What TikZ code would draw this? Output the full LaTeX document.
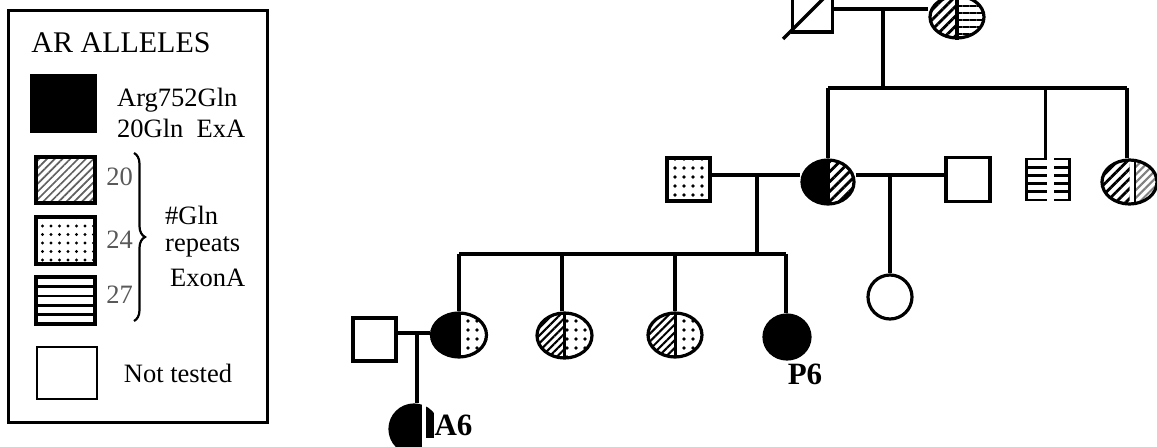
\documentclass[tikz,border=0pt]{standalone}
\usepackage{fontspec}
\setmainfont{Liberation Serif}
\usetikzlibrary{shapes.geometric,patterns.meta,decorations.pathreplacing}
\begin{document}
\tikzset{
  ped/.style={line width=3.2pt},
  fem/.style={ellipse, draw, line width=3.2pt, inner sep=0pt},
  mal/.style={rectangle, draw, line width=3.2pt, inner sep=0pt},
  lsq/.style={rectangle, draw, line width=3.4pt, inner sep=0pt},
  blk/.style={fill=black},
  hatchA/.style={pattern={Lines[angle=45,distance=7pt,line width=2.8pt]}},
  hatchB/.style={pattern={Lines[angle=45,distance=5.5pt,line width=2.1pt]}},
  greyhatch/.style={pattern={Lines[angle=45,distance=5.5pt,line width=2.1pt]}, pattern color=gray},
  lgdhatch/.style={pattern={Lines[angle=45,distance=5.5pt,line width=1.7pt]}, pattern color=gray!75!black},
  dotfill/.style={pattern={Dots[radius=1.8pt,distance=9pt]}},
  lgddots/.style={pattern={Dots[radius=1.7pt,distance=8.5pt]}},
  hlfill/.style={pattern={Lines[angle=0,distance=7pt,line width=2.6pt]}},
  halves/.style 2 args={path picture={
    \fill[#1] (path picture bounding box.south west) rectangle (path picture bounding box.north);
    \fill[#2] (path picture bounding box.south) rectangle (path picture bounding box.north east);
    \draw[line width=3pt] (path picture bounding box.south) -- (path picture bounding box.north);}},
  lgd/.style={font=\fontsize{26.5}{31}\selectfont, inner sep=0pt},
  lgdnum/.style={font=\fontsize{26.5}{31}\selectfont, inner sep=0pt, text=gray!70!black},
  idlab/.style={font=\fontsize{31}{36}\selectfont\bfseries, inner sep=0pt},
}
\begin{tikzpicture}[x=1pt,y=-1pt]
\useasboundingbox (0,0) rectangle (1157,447);
\clip (0,0) rectangle (1157,447);
\fill[white] (0,0) rectangle (1157,447);

% ---------------- legend ----------------
\draw[line width=3pt] (8,10) rectangle (267,422);
\node[lgd, font=\fontsize{30}{34}\selectfont] (title) at (121,43) {AR ALLELES};
\node[lsq, fill=black, minimum width=63pt, minimum height=55pt] (lblack) at (63.5,103.5) {};
\node[lgd, anchor=west, align=left] (ltxt) at (117,113) {Arg752Gln\\20Gln\ \ ExA};
\node[lsq, lgdhatch, minimum width=59pt, minimum height=46pt] (lhatch) at (65.5,180) {};
\node[lsq, lgddots, minimum width=59pt, minimum height=47pt] (ldots) at (65.5,240.5) {};
\node[lsq, minimum width=59pt, minimum height=47pt] (llines) at (65.5,300.5) {};
\foreach \i in {1,...,4}{
  \draw[line width=2.6pt] (36,{277+\i*9.4}) -- (95,{277+\i*9.4});
}
\node[lgdnum, anchor=east] (n20) at (133,177) {20};
\node[lgdnum, anchor=east] (n24) at (133,240) {24};
\node[lgdnum, anchor=east] (n27) at (133,295) {27};
\draw[line width=2.2pt, decorate, decoration={brace, amplitude=11pt}] (134,153) -- (134,321);
\node[lgd, anchor=west] (g1) at (165,215) {\#Gln};
\node[lgd, anchor=west] (g2) at (165,247) {repeats};
\node[lgd, anchor=west] (g3) at (170,278) {ExonA};
\node[lsq, line width=2.6pt, minimum width=60pt, minimum height=52pt] (lempty) at (67,373) {};
\node[lgd] (ntxt) at (178,373) {Not tested};

% ---------------- generation I ----------------
\node[mal, minimum size=40pt] (gm) at (812.5,12) {};
\draw[ped] (783,39) -- (840,-18);
\node[fem, minimum width=54pt, minimum height=42pt, halves={hatchA}{hlfill}] (gf) at (957,17) {};
\draw[line width=4.5pt] (gf.north) -- (gf.south);
\draw[ped] ([yshift=3pt]gm.east) -- ([yshift=3pt]gm.east -| gf.west);
\coordinate (d1) at (883,9);
\coordinate (s2a) at (828,88);
\coordinate (s2b) at (1127,88);
\draw[ped] (d1) -- (d1 |- s2a);
\draw[ped] (s2a) -- (s2b);

% ---------------- generation II ----------------
\node[fem, minimum width=52pt, minimum height=44pt, halves={blk}{hatchA}] (mo) at (828,182) {};
\node[mal, minimum size=43pt, dotfill] (dm) at (688.5,179.5) {};
\node[mal, minimum size=44pt] (em) at (968,179.5) {};
\node[rectangle, inner sep=0pt, minimum width=43pt, minimum height=41pt] (hl) at (1047.5,179.5) {};
\begin{scope}[shift={(hl.center)}]
  \foreach \i in {0,...,5}{
    \draw[line width=2.8pt] (-21.5,{-20.5+\i*8.2}) -- (-0.5,{-20.5+\i*8.2});
    \draw[line width=2.8pt] (6.5,{-20.5+\i*8.2}) -- (21.5,{-20.5+\i*8.2});
  }
  \draw[line width=3pt] (-21.5,-21.5) -- (-21.5,21.5);
  \draw[line width=3pt] (21.5,-21.5) -- (21.5,21.5);
\end{scope}
\node[fem, minimum width=55pt, minimum height=44pt, path picture={
    \fill[hatchA] (path picture bounding box.south west) rectangle (path picture bounding box.north);
    \fill[greyhatch] (path picture bounding box.south) rectangle (path picture bounding box.north east);
    \fill[white] ([xshift=0pt]path picture bounding box.south) rectangle ([xshift=4pt]path picture bounding box.north);
    \draw[line width=2.4pt] ([xshift=5.5pt]path picture bounding box.south) -- ([xshift=5.5pt]path picture bounding box.north);
  }] (lf) at (1129.5,182) {};
\draw[ped] (s2a) -- (mo.north);
\draw[ped] ([xshift=-2pt]hl.north |- s2a) -- ([xshift=-2pt]hl.north);
\draw[ped] (s2b) -- (s2b |- lf.north);

\draw[ped] ([yshift=4.5pt]dm.east) -- ([yshift=4.5pt]dm.east -| mo.west);
\draw[ped] ([yshift=7pt]mo.east) -- ([yshift=7pt]mo.east -| em.west);
\coordinate (c1) at (757,175);
\coordinate (c2) at (890,175);
\node[fem, minimum width=44pt, minimum height=44pt] (dz) at (890,297) {};
\draw[ped] (c2) -- (dz.north);

% ---------------- generation III ----------------
\coordinate (s3a) at (459,254);
\coordinate (s3b) at (786,254);
\draw[ped] (c1) -- (c1 |- s3a);
\draw[ped] (s3a) -- (s3b);
\node[fem, minimum width=55pt, minimum height=44pt, halves={blk}{dotfill}] (k1) at (459,335) {};
\node[fem, minimum width=55pt, minimum height=45pt, halves={hatchB}{dotfill}] (k2) at (564.5,335.5) {};
\node[fem, minimum width=54pt, minimum height=44pt, halves={hatchB}{dotfill}] (k3) at (675,335) {};
\node[fem, fill=black, minimum width=46pt, minimum height=44pt] (k4) at (787,337) {};
\draw[ped] (s3a) -- (k1.north);
\draw[ped] ([xshift=-2.5pt]k2.north |- s3a) -- ([xshift=-2.5pt]k2.north);
\draw[ped] (k3.north |- s3a) -- (k3.north);
\draw[ped] (s3b) -- (s3b |- k4.north);
\node[idlab] (p6) at (805,374) {P6};

\node[mal, minimum size=43pt] (hm) at (374.5,339.5) {};
\draw[ped] ([yshift=6.5pt]hm.east) -- ([yshift=6.5pt]hm.east -| k1.west);
\coordinate (c3) at (417,333);

% ---------------- generation IV ----------------
\node[fem, fill=black, minimum width=48pt, minimum height=48pt] (gc) at (414,429) {};
\draw[ped] (c3) -- (c3 |- gc.north);
\fill[white] (422,403) rectangle (426,447);
\fill[white] (426,438) rectangle (437,447);
\fill[white] (434,400) rectangle (441,447);
\node[idlab] (a6) at (453.5,425) {A6};
\end{tikzpicture}
\end{document}
